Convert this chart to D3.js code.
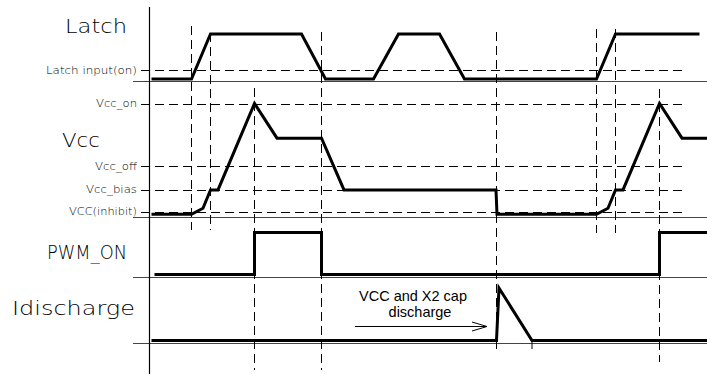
<!DOCTYPE html>
<html>
<head>
<meta charset="utf-8">
<script src="https://cdn.jsdelivr.net/npm/d3@7"></script>
<style>
  html, body { margin: 0; padding: 0; background: #fff; }
  svg { display: block; }
</style>
</head>
<body>
<svg id="chart" width="707" height="374"></svg>
<script>
// ---------------- DATA ----------------
// time in arbitrary units along the common time axis
const panelNames = ["Latch", "Vcc", "PWM_ON", "Idischarge"];

// Latch signal (0 = low, 1 = high)
const latchT = [2, 42, 61, 152, 176, 224, 249, 290, 315, 447, 466, 550];
const latchV = [0, 0, 1, 1, 0, 0, 1, 1, 0, 0, 1, 1];
const latchThresholdLabel = "Latch input(on)";
const latchThreshold = 0.19;

// Vcc signal (volts, estimated)
const vccT = [2, 42, 53.5, 61, 68.5, 105, 127.5, 172, 194.5, 346.5, 347.5, 447, 458.5, 466, 473.5, 510, 532.5, 558];
const vccV = [0, 0, 1.1, 4.4, 4.4, 20, 13.75, 13.75, 4.4, 4.4, 0, 0, 1.1, 4.4, 4.4, 20, 13.75, 13.75];
const vccLevelLabels = ["Vcc_on", "Vcc_off", "Vcc_bias", "VCC(inhibit)"];
const vccLevels = [20, 8.7, 4.4, 0.47];

// PWM_ON signal
const pwmT = [5, 105, 105, 172, 172, 510, 510, 558];
const pwmV = [0, 0, 1, 1, 0, 0, 1, 1];

// Idischarge signal
const idisT = [2, 347, 349.5, 382.5, 558];
const idisV = [0, 0, 1, 0, 0];

// Event markers (vertical dashed lines)
const markerT = [42, 61, 105, 172, 347, 447, 466, 510];

// Annotation
const annotationLines = ["VCC and X2 cap", "discharge"];

// ---------------- LAYOUT ----------------
const svg = d3.select("#chart");
const x = d3.scaleLinear().domain([0, 560]).range([149.5, 709.5]);

const panels = {
  Latch:      { y: d3.scaleLinear().domain([0, 1]).range([79, 34]),    base: 81.5 },
  Vcc:        { y: d3.scaleLinear().domain([0, 20]).range([214.3, 103.5]), base: 217.5 },
  PWM_ON:     { y: d3.scaleLinear().domain([0, 1]).range([274.5, 232.5]),  base: 277.5 },
  Idischarge: { y: d3.scaleLinear().domain([0, 1]).range([340.5, 288]),  base: 343.5 }
};

// big labels: [x start, baseline, width]
const bigLabelPos = {
  Latch:      [65, 32.5, 62],
  Vcc:        [62, 146.5, 38],
  PWM_ON:     [47, 258.5, 80],
  Idischarge: [12, 315, 123]
};

// marker vertical extents [top, bottom]
const markerSpan = [[26, 230], [33, 230], [88, 370], [32, 370], [32, 353], [29, 233], [29, 233], [89, 362]];

const labelFont = "'DejaVu Sans', sans-serif";
const dash = "9,5";

// baselines
svg.append("g").selectAll("line")
  .data(panelNames)
  .join("line")
  .attr("x1", 133).attr("x2", 707)
  .attr("y1", d => panels[d].base).attr("y2", d => panels[d].base)
  .attr("stroke", "#444").attr("stroke-width", 1);

// vertical time axis
svg.append("line")
  .attr("x1", x(0)).attr("x2", x(0)).attr("y1", 7).attr("y2", 374)
  .attr("stroke", "#000").attr("stroke-width", 1.2);

// threshold dashed lines
svg.append("line")
  .attr("x1", 141).attr("x2", 683)
  .attr("y1", Math.round(panels.Latch.y(latchThreshold)) + 0.5)
  .attr("y2", Math.round(panels.Latch.y(latchThreshold)) + 0.5)
  .attr("stroke", "#000").attr("stroke-dasharray", dash);

svg.append("g").selectAll("line")
  .data(vccLevels)
  .join("line")
  .attr("x1", 141).attr("x2", 687)
  .attr("y1", d => Math.round(panels.Vcc.y(d)) + 0.5)
  .attr("y2", d => Math.round(panels.Vcc.y(d)) + 0.5)
  .attr("stroke", "#000").attr("stroke-dasharray", dash);

// markers
svg.append("g").selectAll("line")
  .data(markerT)
  .join("line")
  .attr("x1", d => x(d)).attr("x2", d => x(d))
  .attr("y1", (d, i) => markerSpan[i][0]).attr("y2", (d, i) => markerSpan[i][1])
  .attr("stroke", "#000").attr("stroke-dasharray", dash);

// small labels
svg.append("text")
  .attr("x", 137).attr("y", panels.Latch.y(latchThreshold))
  .attr("dy", "0.35em")
  .attr("text-anchor", "end")
  .attr("font-family", labelFont).attr("font-weight", 200)
  .attr("font-size", 10)
  .attr("textLength", 91).attr("lengthAdjust", "spacingAndGlyphs")
  .text(latchThresholdLabel);

const smallWidths = [41, 42, 51, 68];
svg.append("g").selectAll("text")
  .data(vccLevelLabels)
  .join("text")
  .attr("x", 137).attr("y", (d, i) => panels.Vcc.y(vccLevels[i]))
  .attr("dy", "0.35em")
  .attr("text-anchor", "end")
  .attr("font-family", labelFont).attr("font-weight", 200)
  .attr("font-size", 10)
  .attr("textLength", (d, i) => smallWidths[i]).attr("lengthAdjust", "spacingAndGlyphs")
  .text(d => d);

// big labels
svg.append("g").selectAll("text")
  .data(panelNames)
  .join("text")
  .attr("x", d => bigLabelPos[d][0]).attr("y", d => bigLabelPos[d][1])
  .attr("font-family", labelFont).attr("font-weight", 200)
  .attr("font-size", 20)
  .attr("textLength", d => bigLabelPos[d][2]).attr("lengthAdjust", "spacingAndGlyphs")
  .text(d => d);

// signals
const signals = [
  ["Latch", latchT, latchV],
  ["Vcc", vccT, vccV],
  ["PWM_ON", pwmT, pwmV],
  ["Idischarge", idisT, idisV]
];
signals.forEach(([name, ts, vs]) => {
  const ys = panels[name].y;
  const line = d3.line().x(d => x(d[0])).y(d => ys(d[1]));
  svg.append("path")
    .datum(ts.map((t, i) => [t, vs[i]]))
    .attr("d", line)
    .attr("fill", "none")
    .attr("stroke", "#000")
    .attr("stroke-width", 3)
    .attr("stroke-linejoin", "miter");
});

// small tick at end of discharge
svg.append("line")
  .attr("x1", x(idisT[3])).attr("x2", x(idisT[3]))
  .attr("y1", panels.Idischarge.y(0)).attr("y2", 349)
  .attr("stroke", "#000").attr("stroke-width", 1);

// annotation
svg.append("text")
  .attr("x", 413).attr("y", 301)
  .attr("text-anchor", "middle")
  .attr("font-family", "'Liberation Sans', Arial, sans-serif")
  .attr("font-size", 14.5)
  .text(annotationLines[0]);
svg.append("text")
  .attr("x", 420).attr("y", 317)
  .attr("text-anchor", "middle")
  .attr("font-family", "'Liberation Sans', Arial, sans-serif")
  .attr("font-size", 14.5)
  .text(annotationLines[1]);

// arrow
svg.append("line")
  .attr("x1", 355).attr("x2", 487).attr("y1", 326.5).attr("y2", 326.5)
  .attr("stroke", "#000").attr("stroke-width", 1);
svg.append("path")
  .attr("d", "M472,322 L487,326.5 L472,331")
  .attr("fill", "none").attr("stroke", "#000").attr("stroke-width", 1);
</script>
</body>
</html>
